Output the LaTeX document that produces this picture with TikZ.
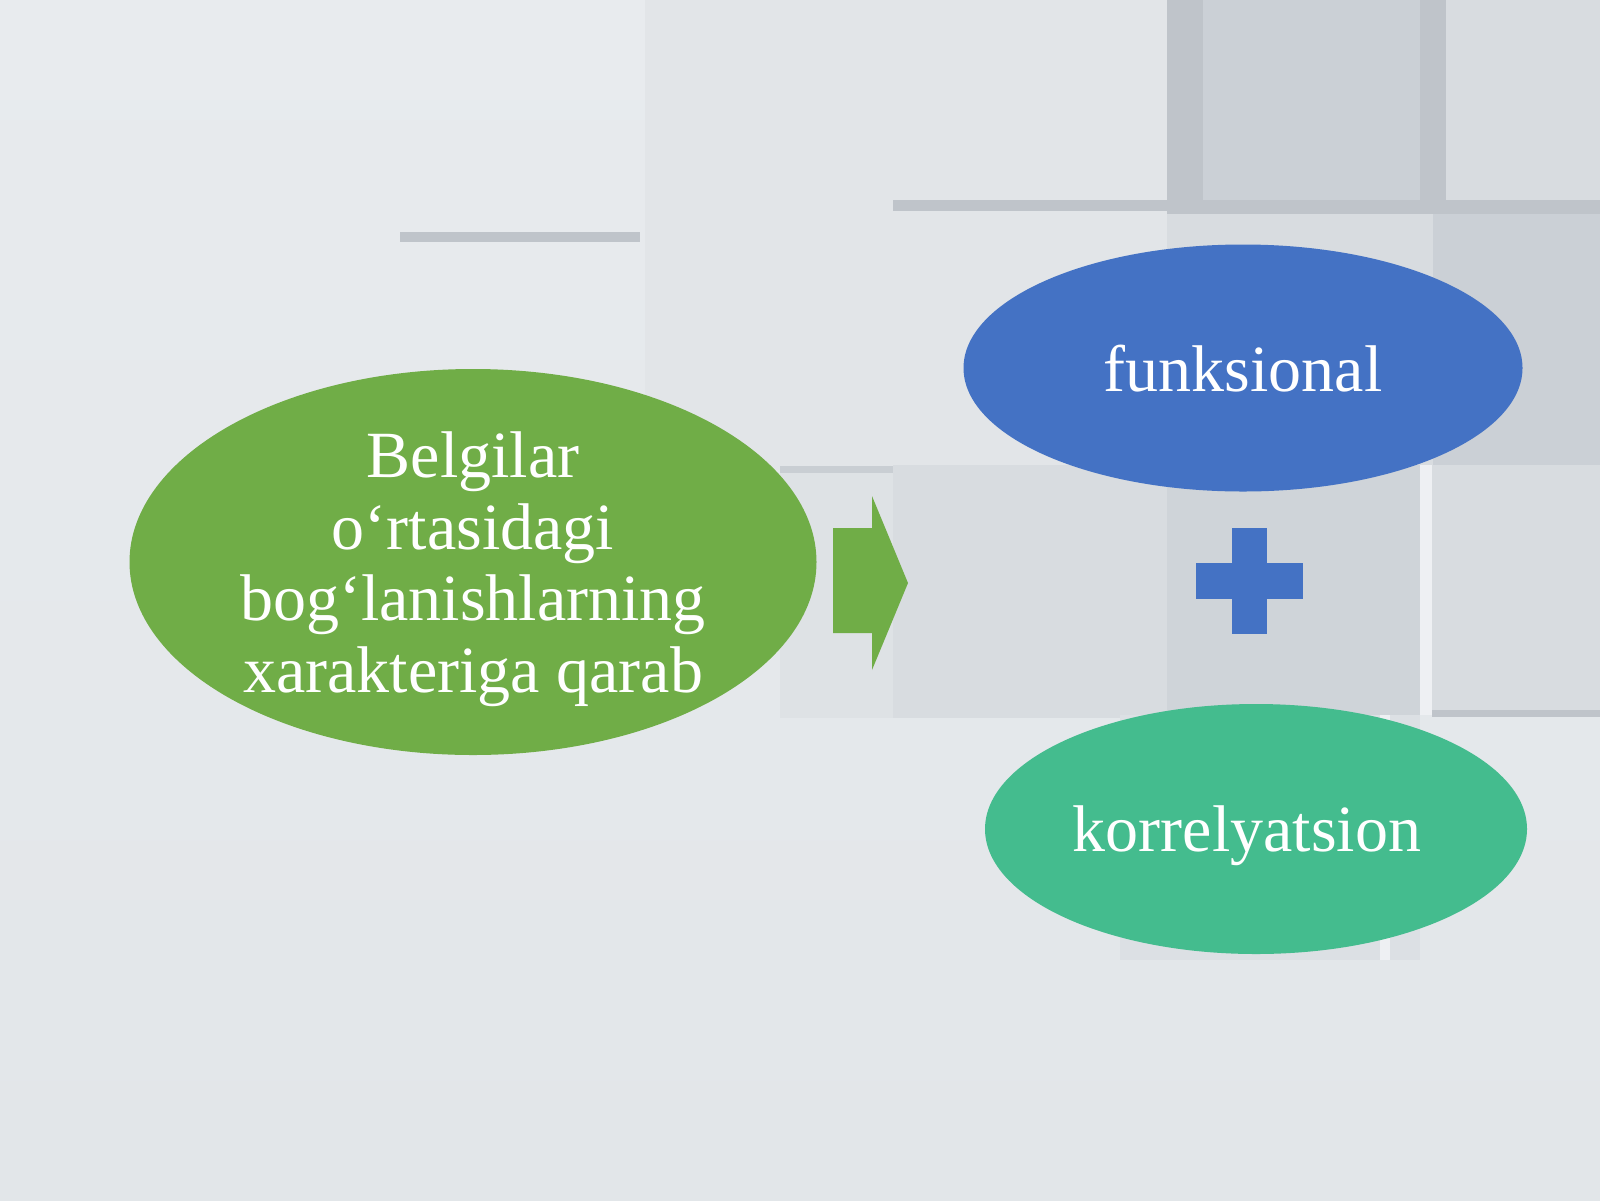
\documentclass[tikz,border=0pt]{standalone}
\usepackage{fontspec}
\setmainfont{Liberation Serif}
\usetikzlibrary{shapes.geometric}

\definecolor{bgtop}{HTML}{E8EBEE}
\definecolor{bgbottom}{HTML}{E2E6E9}
\definecolor{tilelight}{HTML}{E2E5E8}
\definecolor{tilemid}{HTML}{D8DCE0}
\definecolor{tiledark}{HTML}{CBD0D6}
\definecolor{tileedge}{HTML}{BFC4CA}
\definecolor{tileshine}{HTML}{EEF0F3}
\definecolor{grnell}{HTML}{70AD47}
\definecolor{bluell}{HTML}{4472C4}
\definecolor{tealell}{HTML}{44BC8E}

\begin{document}
\begin{tikzpicture}[x=1pt,y=-1pt]
  \tikzstyle{enode} = [ellipse, inner sep=0pt, align=center, text=white, text depth=0pt, font=\fontsize{66}{71.4}\selectfont]

  % background with tiles
  \useasboundingbox (0,0) rectangle (1600,1200);
  \shade[top color=bgtop, bottom color=bgbottom] (0,0) rectangle (1600,1200);
  \fill[tileedge] (400,232) rectangle (640,242);
  \fill[tilelight] (645,0) rectangle (893,470);
  \fill[tilelight] (893,0) rectangle (1167,200);
  \fill[tileedge] (893,200) rectangle (1167,211);
  \fill[tiledark] (1167,0) rectangle (1420,200);
  \fill[tileedge] (1167,0) rectangle (1203,200);
  \fill[tilemid] (1420,0) rectangle (1600,200);
  \fill[tileedge] (1420,0) rectangle (1446,200);
  \fill[tileedge] (1167,200) rectangle (1600,214);
  \fill[tilelight] (893,211) rectangle (1167,465);
  \fill[tilemid] (1167,214) rectangle (1433,465);
  \fill[tiledark] (1433,214) rectangle (1600,465);
  \fill[tileedge!60!tilemid] (780,466) rectangle (893,473);
  \fill[tilemid!60!bgtop] (780,473) rectangle (893,718);
  \fill[tilemid] (893,465) rectangle (1167,718);
  \fill[tiledark!70!tilemid] (1167,465) rectangle (1420,715);
  \fill[tileshine] (1420,465) rectangle (1432,715);
  \fill[tilemid] (1432,465) rectangle (1600,710);
  \fill[tileedge] (1432,710) rectangle (1600,717);
  \fill[tilemid!60!bgbottom] (1120,715) rectangle (1420,960);
  \fill[tileshine] (1380,715) rectangle (1390,960);

  % ellipses
  \node[enode, fill=grnell, minimum width=687, minimum height=386] (belgi) at (473,562)
    {Belgilar\\o‘rtasidagi\\bog‘lanishlarning\\xarakteriga qarab};
  \node[enode, fill=bluell, minimum width=559, minimum height=247] (funk) at (1243,368) {funksional};
  \node[enode, fill=tealell, minimum width=542, minimum height=250] (korr) at (1256,829) {\hspace*{-18pt}korrelyatsion};

  % block arrow
  \fill[grnell] (833,528) -- (872,528) -- (872,496) -- (908,583) -- (872,670) -- (872,633) -- (833,633) -- cycle;

  % plus sign
  \fill[bluell] (1232,528) rectangle (1267,634);
  \fill[bluell] (1196,563) rectangle (1303,599);
\end{tikzpicture}
\end{document}
